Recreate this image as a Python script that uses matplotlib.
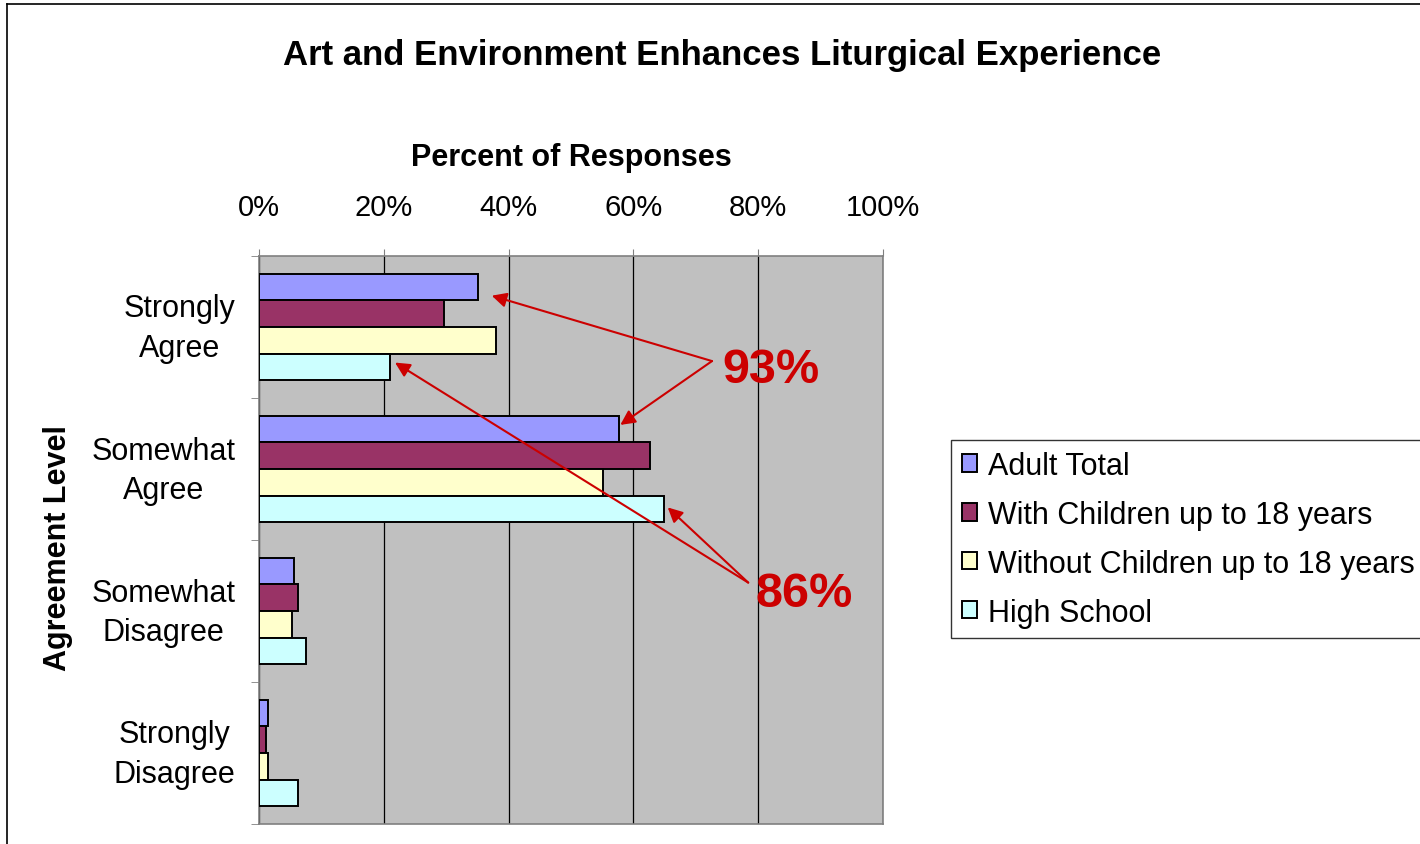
import matplotlib
matplotlib.use("Agg")
import matplotlib.pyplot as plt
from matplotlib.lines import Line2D
import matplotlib.transforms as mtransforms
import numpy as np

plt.rcParams['font.family'] = ['Liberation Sans', 'DejaVu Sans']

categories = ["Strongly\nAgree", "Somewhat\nAgree", "Somewhat\nDisagree", "Strongly\nDisagree"]
series_names = ["Adult Total", "With Children up to 18 years",
                "Without Children up to 18 years", "High School"]
adult_total = [35.1, 57.7, 5.6, 1.4]
with_children = [29.6, 62.7, 6.3, 1.1]
without_children = [38.0, 55.1, 5.3, 1.4]
high_school = [21.0, 64.9, 7.5, 6.3]
xticks = [0, 20, 40, 60, 80, 100]
xtick_labels = ["0%", "20%", "40%", "60%", "80%", "100%"]
colors = ["#9999FF", "#993366", "#FFFFCC", "#CCFFFF"]

series = [adult_total, with_children, without_children, high_school]

W, H = 1420, 845
fig = plt.figure(figsize=(W / 100, H / 100), dpi=100)
ax = fig.add_axes([259 / W, 1 - 825 / H, (883 - 259) / W, (825 - 257) / H])

ax.set_facecolor("#C0C0C0")
y = np.arange(len(categories))
h = 0.187
offsets = [-1.5 * h, -0.5 * h, 0.5 * h, 1.5 * h]
for vals, col, off, name in zip(series, colors, offsets, series_names):
    ax.barh(y + off, vals, height=h, color=col, edgecolor="black",
            linewidth=1.4, label=name, zorder=3)

ax.set_xlim(0, 100)
ax.set_ylim(3.5, -0.5)
ax.xaxis.tick_top()
ax.xaxis.set_label_position("top")
ax.set_xticks(xticks)
ax.set_xticklabels(xtick_labels, fontsize=21)
ax.tick_params(axis="x", direction="out", length=5, pad=20, color="#808080")
ax.set_xlabel("Percent of Responses", fontsize=22, fontweight="bold", labelpad=20)
ax.grid(axis="x", color="#000000", linewidth=0.9, zorder=1)

ax.set_yticks(y)
ax.set_yticklabels(categories, fontsize=22, linespacing=1.42, multialignment="center")
ax.tick_params(axis="y", which="major", length=0, pad=17)
ax.set_yticks(np.arange(-0.5, 4.0, 1.0), minor=True)
ax.tick_params(axis="y", which="minor", length=6, direction="out", color="#808080")
shift = mtransforms.ScaledTranslation(0, 7 / 100, fig.dpi_scale_trans)
for lbl in ax.get_yticklabels():
    lbl.set_transform(lbl.get_transform() + shift)

for s in ax.spines.values():
    s.set_color("#808080")
    s.set_linewidth(1.2)

fig.text(58 / W, 1 - 548 / H, "Agreement Level", rotation=90, fontsize=22,
         fontweight="bold", ha="center", va="center")

fig.text(722 / W, 1 - 55 / H, "Art and Environment Enhances Liturgical Experience",
         fontsize=25, fontweight="bold", ha="center", va="center")

red = "#CC0000"
ax.text(74.2, 0.296, "93%", color=red, fontsize=35, fontweight="bold",
        ha="left", va="center", zorder=5)
ax.text(79.5, 1.88, "86%", color=red, fontsize=35, fontweight="bold",
        ha="left", va="center", zorder=5)

aprops = dict(arrowstyle="-|>", color=red, lw=1.5, mutation_scale=22,
              shrinkA=0, shrinkB=0)
start93 = (72.6, 0.24)
start86 = (78.4, 1.80)
ax.annotate("", xy=(adult_total[0] + 2.2, 0 + offsets[0] + 0.06), xytext=start93,
            arrowprops=aprops, zorder=5)
ax.annotate("", xy=(adult_total[1] + 0.2, 1 + offsets[0] - 0.03), xytext=start93,
            arrowprops=aprops, zorder=5)
ax.annotate("", xy=(high_school[0] + 0.8, 0 + offsets[3] - 0.03), xytext=start86,
            arrowprops=aprops, zorder=5)
ax.annotate("", xy=(high_school[1] + 0.6, 1 + offsets[3] - 0.01), xytext=start86,
            arrowprops=aprops, zorder=5)

leg = fig.legend(loc="upper left", bbox_to_anchor=(951 / W, 1 - 441 / H),
                 fontsize=22, frameon=True, fancybox=False, edgecolor="black",
                 handlelength=0.5, handleheight=0.5, handletextpad=0.35,
                 labelspacing=0.62, borderpad=0.35, borderaxespad=0)
leg.get_frame().set_linewidth(1.0)

# outer chart border
fig.add_artist(Line2D([7 / W, 7 / W], [0, 1 - 5 / H], color="black", lw=1.2,
                      transform=fig.transFigure))
fig.add_artist(Line2D([7 / W, 1], [1 - 5 / H, 1 - 5 / H], color="black", lw=1.2,
                      transform=fig.transFigure))

fig.savefig("out.png", dpi=100)
